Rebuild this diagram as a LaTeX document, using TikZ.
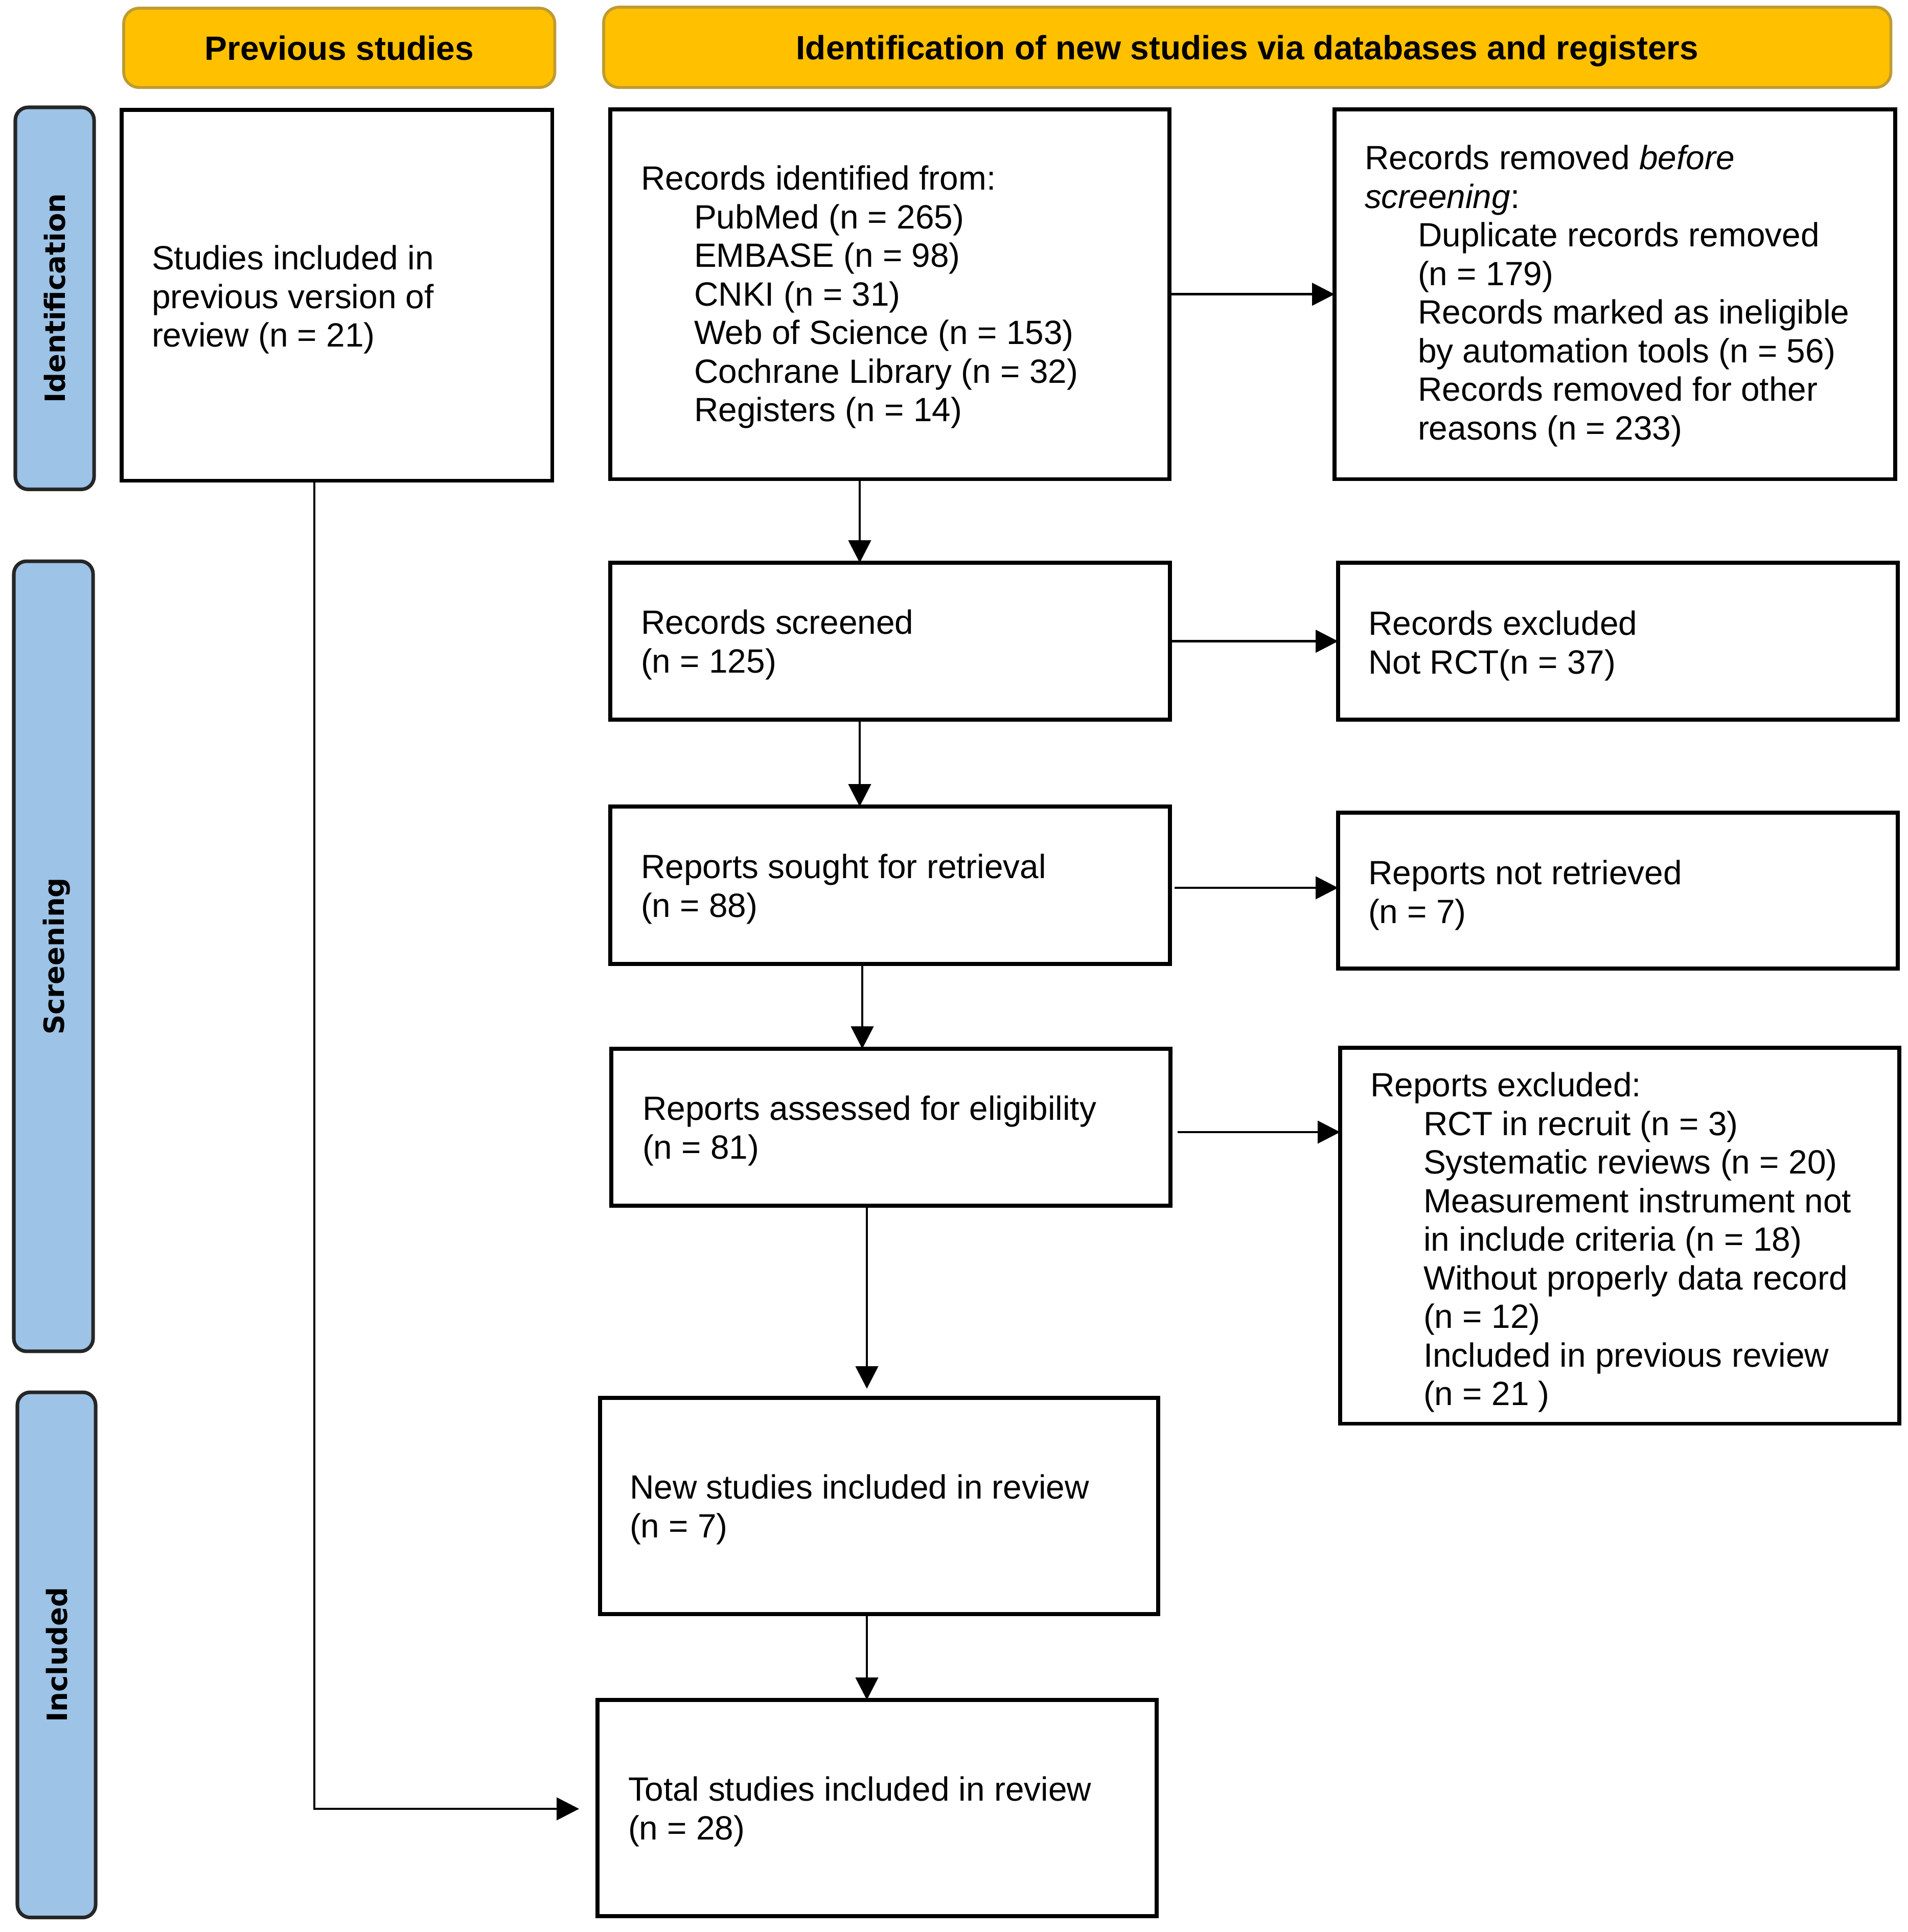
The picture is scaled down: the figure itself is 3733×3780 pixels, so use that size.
\documentclass[tikz,border=0pt]{standalone}
\usepackage{fontspec}
\setmainfont{Liberation Sans}
\newfontfamily\sidefont{DejaVu Sans}
\usetikzlibrary{arrows.meta}
\definecolor{hdrfill}{HTML}{FFC000}
\definecolor{hdrdraw}{HTML}{BF9B30}
\definecolor{sidefill}{HTML}{9DC3E6}
\definecolor{sidedraw}{HTML}{262626}
\newcommand{\ind}{\hspace*{1.04cm}}
\newcommand{\bodyfs}{\fontsize{18.7pt}{21.48pt}\selectfont}
\begin{document}
\begin{tikzpicture}[x=0.01cm,y=-0.01cm,
  box/.style={draw=black,line width=2.2pt,fill=white,anchor=north west,inner sep=0pt,outer sep=0pt},
  hdr/.style={draw=hdrdraw,fill=hdrfill,line width=1.6pt,rounded corners=0.3cm,anchor=north west,inner sep=0pt,outer sep=0pt,font=\bodyfs\bfseries,text height=13.6pt,text depth=0pt},
  side/.style={draw=sidedraw,fill=sidefill,line width=2pt,rounded corners=0.25cm,anchor=north west,inner sep=0pt,outer sep=0pt},
  sidetxt/.style={rotate=90,font=\sidefont\fontsize{15.5pt}{18pt}\selectfont\bfseries,inner sep=0pt,text depth=0pt},
  txt/.style={anchor=north west,inner sep=0pt,outer sep=0pt,align=left,font=\bodyfs},
  arr/.style={line width=1.3pt,-{Triangle[length=12.5pt,width=12.5pt]}}]
\useasboundingbox (0,0) rectangle (3733,3780);
\fill[white] (0,0) rectangle (3733,3780);

% headers
\node[hdr,minimum width=8.43cm,minimum height=1.55cm] (hprev) at (242,16) {Previous studies};
\node[hdr,minimum width=25.17cm,minimum height=1.57cm] (hid) at (1181,14) {Identification of new studies via databases and registers};

% side labels
\node[side,minimum width=1.54cm,minimum height=7.47cm] (sid) at (30,210) {};
\node[sidetxt] (sidt) at (sid.center) {Identification};
\node[side,minimum width=1.55cm,minimum height=15.45cm] (sscr) at (27,1098) {};
\node[sidetxt] (sscrt) at (sscr.center) {Screening};
\node[side,minimum width=1.53cm,minimum height=10.27cm] (sinc) at (34,2724) {};
\node[sidetxt] (sinct) at (sinc.center) {Included};

% boxes
\node[box,minimum width=8.42cm,minimum height=7.25cm] (prev) at (238,215) {};
\node[box,minimum width=10.93cm,minimum height=7.23cm] (rec) at (1194,214) {};
\node[box,minimum width=10.96cm,minimum height=7.23cm] (rem) at (2611,214) {};
\node[box,minimum width=10.94cm,minimum height=3.07cm] (scr) at (1194,1101) {};
\node[box,minimum width=10.94cm,minimum height=3.07cm] (exc) at (2618,1101) {};
\node[box,minimum width=10.94cm,minimum height=3.08cm] (sou) at (1194,1578) {};
\node[box,minimum width=10.94cm,minimum height=3.05cm] (nr) at (2618,1590) {};
\node[box,minimum width=10.93cm,minimum height=3.07cm] (ass) at (1196,2052) {};
\node[box,minimum width=10.93cm,minimum height=7.35cm] (rex) at (2622,2050) {};
\node[box,minimum width=10.91cm,minimum height=4.23cm] (new) at (1174,2735) {};
\node[box,minimum width=10.93cm,minimum height=4.23cm] (tot) at (1169,3326) {};

% texts
\node[txt] (prevt) at (297,480) {Studies included in\\previous version of\\review (n = 21)};
\node[txt] (rect) at (1254,324) {Records identified from:\\\ind PubMed (n = 265)\\\ind EMBASE (n = 98)\\\ind CNKI (n = 31)\\\ind Web of Science (n = 153)\\\ind Cochrane Library (n = 32)\\\ind Registers (n = 14)};
\node[txt] (remt) at (2670,284) {Records removed \textit{before}\\\textit{screening}:\\\ind Duplicate records removed\\\ind (n = 179)\\\ind Records marked as ineligible\\\ind by automation tools (n = 56)\\\ind Records removed for other\\\ind reasons (n = 233)};
\node[txt] (scrt) at (1254,1193) {Records screened\\(n = 125)};
\node[txt] (exct) at (2677,1195) {Records excluded\\Not RCT(n = 37)};
\node[txt] (sout) at (1254,1671) {Reports sought for retrieval\\(n = 88)};
\node[txt] (nrt) at (2677,1683) {Reports not retrieved\\(n = 7)};
\node[txt] (asst) at (1257,2144) {Reports assessed for eligibility\\(n = 81)};
\node[txt] (rext) at (2681,2098) {Reports excluded:\\\ind RCT in recruit (n = 3)\\\ind Systematic reviews (n = 20)\\\ind Measurement instrument not\\\ind in include criteria (n = 18)\\\ind Without properly data record\\\ind (n = 12)\\\ind Included in previous review\\\ind (n = 21 )};
\node[txt] (newt) at (1232,2885) {New studies included in review\\(n = 7)};
\node[txt] (tott) at (1229,3476) {Total studies included in review\\(n = 28)};

% connector coordinates
\coordinate (v1) at (1682,0);
\coordinate (v3) at (1687,0);
\coordinate (v4) at (1696,0);
\coordinate (h3) at (0,1737);
\coordinate (h4) at (0,2215);
\coordinate (pvx) at (615,0);
\coordinate (totin) at (1133,3539);

% vertical arrows
\draw[arr] (rec.south -| v1) -- (scr.north -| v1);
\draw[arr] (scr.south -| v1) -- (sou.north -| v1);
\draw[arr] (sou.south -| v3) -- (ass.north -| v3);
\draw[arr,shorten >=0.18cm] (ass.south -| v4) -- (new.north -| v4);
\draw[arr] (new.south -| v4) -- (tot.north -| v4);

% horizontal arrows
\draw[arr] (rec.east) -- (rem.west);
\draw[arr] (scr.east) -- (exc.west);
\draw[arr,shorten <=0.09cm] (sou.east |- h3) -- (nr.west |- h3);
\draw[arr,shorten <=0.14cm] (ass.east |- h4) -- (rex.west |- h4);

% previous studies to total
\draw[arr] (prev.south -| pvx) |- (totin);
\end{tikzpicture}
\end{document}
